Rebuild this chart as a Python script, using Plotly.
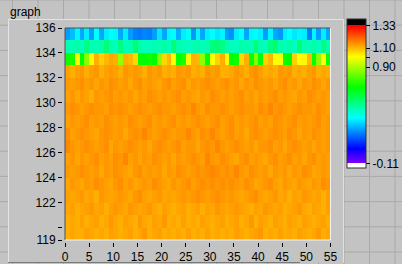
import plotly.graph_objects as go

# ---------------- data ----------------
x_start = 0          # first column edge
y_start = 119        # first row edge
x_ticks = [0, 5, 10, 15, 20, 25, 30, 35, 40, 45, 50, 55]
y_ticks = [119, 120, 122, 124, 126, 128, 130, 132, 134, 136]
y_ticktext = ["119", "", "122", "124", "126", "128", "130", "132", "134", "136"]
cb_ticks = [-0.11, 0.90, 1.00, 1.10, 1.33]
cb_ticktext = ["-0.11", "0.90", "", "1.10", "1.33"]

row_119 = [1.11,1.12,1.11,1.11,1.13,1.12,1.11,1.12,1.11,1.13,1.12,
           1.11,1.12,1.13,1.11,1.12,1.14,1.11,1.12,1.13,1.11,1.12,
           1.11,1.12,1.11,1.13,1.11,1.12,1.11,1.13,1.11,1.12,1.11,
           1.12,1.11,1.13,1.12,1.11,1.12,1.13,1.14,1.11,1.12,1.11,
           1.13,1.11,1.12,1.11,1.13,1.12,1.11,1.12,1.14,1.11,1.12]
row_120 = [1.11,1.12,1.11,1.13,1.11,1.12,1.13,1.11,1.12,1.14,1.12,
           1.11,1.13,1.12,1.11,1.14,1.12,1.11,1.13,1.12,1.14,1.11,
           1.12,1.11,1.13,1.11,1.12,1.11,1.13,1.12,1.11,1.12,1.13,
           1.11,1.12,1.13,1.11,1.12,1.14,1.11,1.13,1.12,1.11,1.13,
           1.12,1.11,1.13,1.12,1.11,1.13,1.12,1.11,1.12,1.13,1.11]
row_121 = [1.12,1.13,1.11,1.12,1.13,1.14,1.12,1.13,1.11,1.13,1.14,
           1.13,1.12,1.14,1.13,1.12,1.13,1.14,1.12,1.11,1.13,1.12,
           1.11,1.12,1.13,1.11,1.12,1.13,1.11,1.13,1.12,1.14,1.13,
           1.12,1.13,1.14,1.13,1.12,1.11,1.13,1.12,1.14,1.13,1.12,
           1.13,1.11,1.12,1.13,1.14,1.12,1.11,1.13,1.12,1.11,1.13]
row_122 = [1.13,1.12,1.13,1.14,1.12,1.13,1.11,1.14,1.13,1.12,1.13,
           1.14,1.13,1.12,1.14,1.15,1.13,1.12,1.13,1.14,1.12,1.13,
           1.12,1.13,1.14,1.13,1.14,1.15,1.14,1.13,1.14,1.15,1.14,
           1.13,1.14,1.13,1.12,1.13,1.14,1.15,1.13,1.12,1.13,1.14,
           1.12,1.13,1.11,1.13,1.12,1.14,1.13,1.12,1.13,1.11,1.13]
row_123 = [1.12,1.14,1.13,1.12,1.14,1.13,1.15,1.14,1.13,1.12,1.14,
           1.15,1.13,1.14,1.12,1.13,1.14,1.13,1.15,1.14,1.13,1.12,
           1.14,1.13,1.14,1.15,1.13,1.14,1.15,1.14,1.15,1.14,1.15,
           1.14,1.15,1.14,1.13,1.15,1.14,1.12,1.13,1.14,1.15,1.13,
           1.12,1.14,1.13,1.12,1.14,1.13,1.12,1.14,1.13,1.15,1.14]
row_124 = [1.14,1.13,1.14,1.15,1.14,1.13,1.14,1.12,1.14,1.13,1.15,
           1.14,1.13,1.12,1.14,1.15,1.13,1.14,1.13,1.14,1.12,1.14,
           1.13,1.15,1.14,1.13,1.14,1.15,1.14,1.15,1.16,1.15,1.14,
           1.15,1.14,1.16,1.14,1.13,1.15,1.14,1.13,1.14,1.12,1.14,
           1.13,1.14,1.12,1.14,1.13,1.15,1.14,1.12,1.13,1.14,1.13]
row_125 = [1.13,1.14,1.12,1.14,1.13,1.14,1.15,1.13,1.14,1.13,1.15,
           1.14,1.16,1.13,1.14,1.12,1.14,1.13,1.15,1.14,1.13,1.14,
           1.12,1.14,1.13,1.14,1.15,1.14,1.13,1.16,1.14,1.13,1.15,
           1.14,1.13,1.12,1.14,1.15,1.13,1.14,1.13,1.12,1.14,1.15,
           1.13,1.14,1.15,1.13,1.14,1.12,1.14,1.15,1.13,1.14,1.13]
row_126 = [1.16,1.14,1.13,1.14,1.15,1.14,1.13,1.14,1.15,1.12,1.14,
           1.13,1.14,1.15,1.14,1.13,1.14,1.12,1.14,1.15,1.14,1.13,
           1.14,1.15,1.13,1.14,1.14,1.12,1.14,1.15,1.14,1.16,1.14,
           1.13,1.14,1.15,1.14,1.13,1.14,1.12,1.14,1.14,1.15,1.13,
           1.14,1.12,1.14,1.15,1.14,1.13,1.14,1.12,1.14,1.13,1.14]
row_127 = [1.15,1.13,1.14,1.15,1.14,1.13,1.12,1.14,1.15,1.14,1.13,
           1.14,1.12,1.14,1.15,1.14,1.16,1.14,1.13,1.14,1.15,1.14,
           1.13,1.14,1.14,1.16,1.14,1.13,1.15,1.14,1.16,1.14,1.13,
           1.14,1.15,1.13,1.14,1.12,1.14,1.15,1.14,1.13,1.14,1.15,
           1.14,1.13,1.15,1.14,1.12,1.14,1.13,1.15,1.14,1.13,1.14]
row_128 = [1.13,1.14,1.13,1.14,1.15,1.13,1.14,1.13,1.15,1.14,1.13,
           1.14,1.13,1.15,1.14,1.13,1.14,1.15,1.13,1.14,1.13,1.14,
           1.15,1.13,1.14,1.13,1.14,1.15,1.14,1.13,1.14,1.15,1.13,
           1.14,1.15,1.13,1.14,1.13,1.14,1.15,1.13,1.14,1.13,1.15,
           1.14,1.13,1.14,1.15,1.13,1.14,1.13,1.14,1.15,1.13,1.14]
row_129 = [1.14,1.15,1.14,1.13,1.14,1.15,1.14,1.14,1.13,1.15,1.14,
           1.15,1.14,1.13,1.14,1.15,1.14,1.13,1.14,1.15,1.14,1.14,
           1.13,1.14,1.15,1.14,1.16,1.14,1.13,1.15,1.14,1.14,1.15,
           1.14,1.13,1.14,1.15,1.14,1.14,1.13,1.15,1.14,1.16,1.14,
           1.15,1.14,1.13,1.14,1.15,1.14,1.14,1.13,1.15,1.14,1.13]
row_130 = [1.13,1.14,1.12,1.14,1.13,1.11,1.14,1.13,1.14,1.15,1.13,
           1.14,1.13,1.14,1.12,1.14,1.13,1.15,1.14,1.13,1.14,1.13,
           1.14,1.15,1.13,1.14,1.13,1.12,1.14,1.13,1.15,1.14,1.13,
           1.14,1.13,1.14,1.15,1.13,1.14,1.12,1.14,1.13,1.14,1.15,
           1.13,1.14,1.13,1.12,1.14,1.13,1.15,1.14,1.13,1.14,1.13]
row_131 = [1.14,1.13,1.14,1.15,1.13,1.14,1.12,1.14,1.13,1.15,1.14,
           1.13,1.14,1.12,1.14,1.15,1.13,1.14,1.13,1.12,1.14,1.15,
           1.13,1.14,1.15,1.12,1.14,1.13,1.14,1.15,1.14,1.13,1.14,
           1.15,1.13,1.14,1.12,1.14,1.13,1.15,1.14,1.13,1.14,1.12,
           1.14,1.15,1.13,1.14,1.12,1.14,1.13,1.15,1.14,1.12,1.14]
row_132 = [1.13,1.11,1.13,1.14,1.11,1.13,1.14,1.11,1.13,1.14,1.13,
           1.11,1.14,1.13,1.14,1.13,1.11,1.14,1.13,1.14,1.11,1.12,
           1.11,1.14,1.13,1.14,1.11,1.12,1.11,1.14,1.13,1.14,1.11,
           1.11,1.12,1.14,1.13,1.11,1.14,1.15,1.13,1.11,1.12,1.11,
           1.14,1.13,1.14,1.11,1.12,1.11,1.13,1.14,1.11,1.12,1.11]
row_133 = [0.70,0.72,1.00,0.69,0.86,1.02,1.11,1.07,1.10,1.12,1.11,
           0.88,1.11,1.10,1.06,0.70,0.68,0.71,0.69,0.86,1.06,1.10,
           1.01,0.70,0.72,1.02,1.11,1.10,0.87,0.70,1.00,1.07,1.11,
           1.02,0.69,0.71,1.06,1.11,0.70,0.86,0.68,1.07,1.10,1.01,
           1.00,0.70,0.69,1.07,1.01,1.02,1.10,0.70,0.87,1.01,0.71]
row_134 = [0.47,0.46,0.48,0.45,0.53,0.47,0.46,0.48,0.54,0.47,0.45,
           0.53,0.46,0.47,0.55,0.48,0.46,0.45,0.47,0.46,0.48,0.45,
           0.54,0.47,0.46,0.45,0.47,0.48,0.46,0.47,0.53,0.55,0.52,
           0.47,0.46,0.45,0.48,0.47,0.46,0.54,0.47,0.45,0.53,0.55,
           0.47,0.46,0.48,0.45,0.54,0.47,0.46,0.48,0.45,0.53,0.47]
row_135 = [0.25,0.29,0.36,0.26,0.35,0.25,0.37,0.26,0.35,0.38,0.36,
           0.26,0.35,0.25,0.21,0.20,0.22,0.21,0.25,0.34,0.26,0.36,
           0.37,0.27,0.35,0.38,0.24,0.36,0.26,0.35,0.37,0.34,0.36,
           0.25,0.23,0.35,0.37,0.26,0.36,0.38,0.35,0.25,0.36,0.26,
           0.24,0.35,0.37,0.34,0.36,0.35,0.21,0.36,0.25,0.35,0.26]

z_rows = [row_119, row_120, row_121, row_122, row_123, row_124, row_125,
          row_126, row_127, row_128, row_129, row_130, row_131, row_132,
          row_133, row_134, row_135]

# ---------------- layout helpers ----------------
W, H = 402, 264
ML, MR, MT, MB = 61, 71, 28, 22
PW, PH = W - ML - MR, H - MT - MB


def px(x):
    return (x - ML) / PW


def py(y):
    return (H - MB - y) / PH


# colour ramp (LabVIEW style rainbow, black above range, white below)
zmin, zmax = -0.152, 1.403
lo, hi = -0.11, 1.33


def pos(v):
    return (v - zmin) / (zmax - zmin)


anchors = [(270, "rgb(128,0,255)"), (240, "rgb(0,0,255)"), (180, "rgb(0,255,255)"),
           (120, "rgb(0,255,0)"), (60, "rgb(255,255,0)"), (0, "rgb(255,0,0)")]
cscale = [[0.0, "rgb(255,255,255)"], [pos(lo + 0.008), "rgb(255,255,255)"]]
for h, c in anchors:
    v = hi - h / 270 * (hi - lo)
    v = max(v, lo + 0.008)
    cscale.append([pos(v), c])
cscale.append([pos(hi + 0.01), "rgb(255,0,0)"])
cscale.append([pos(hi + 0.01), "rgb(0,0,0)"])
cscale.append([1.0, "rgb(0,0,0)"])

font = dict(family="Liberation Sans, Arial, sans-serif", size=12, color="black")

fig = go.Figure(go.Heatmap(
    z=z_rows, x0=x_start + 0.5, dx=1, y0=y_start + 0.5, dy=1,
    zmin=zmin, zmax=zmax, colorscale=cscale,
    hoverinfo="skip",
    colorbar=dict(
        x=px(347), xanchor="left", y=py(19), yanchor="top",
        lenmode="pixels", len=149, thickness=19, thicknessmode="pixels",
        xpad=0, ypad=0, outlinewidth=1, outlinecolor="#303030",
        tickvals=cb_ticks, ticktext=cb_ticktext,
        ticks="outside", ticklen=4, tickwidth=1, tickcolor="black",
        tickfont=font, borderwidth=0,
    ),
))

shapes = []
grid_col = "#a9a9a9"
# background grid
gx = 344 - 25.5 * 14
while gx <= W:
    shapes.append(dict(type="line", xref="paper", yref="paper", x0=px(gx), x1=px(gx),
                       y0=py(0), y1=py(H), line=dict(color=grid_col, width=1), layer="below"))
    gx += 25.5
gy = 0
while gy <= H:
    shapes.append(dict(type="line", xref="paper", yref="paper", x0=px(0), x1=px(W),
                       y0=py(gy), y1=py(gy), line=dict(color=grid_col, width=1), layer="below"))
    gy += 25.2
# graph panel
shapes.append(dict(type="rect", xref="paper", yref="paper", x0=px(8), x1=px(343.5),
                   y0=py(262.5), y1=py(19), fillcolor="#c3c3c3",
                   line=dict(width=0), layer="below"))
for (x0, y0, x1, y1, c) in [(8, 19.5, 343.5, 19.5, "#e4e4e4"), (8.5, 19, 8.5, 262.5, "#e4e4e4"),
                            (343.5, 19, 343.5, 262.5, "#e0e0e0"), (8, 262.5, 300, 262.5, "#7a7a7a")]:
    shapes.append(dict(type="line", xref="paper", yref="paper", x0=px(x0), x1=px(x1),
                       y0=py(y0), y1=py(y1), line=dict(color=c, width=1), layer="below"))
# sunken border around the plot area
for (x0, y0, x1, y1, c) in [(0, 1, 1, 1, "#505050"), (0, 0, 0, 1, "#505050"),
                            (1, 0, 1, 1, "#f4f4f4"), (0, 0, 1, 0, "#f4f4f4")]:
    shapes.append(dict(type="line", xref="x domain", yref="y domain", x0=x0, x1=x1,
                       y0=y0, y1=y1, line=dict(color=c, width=1), layer="above"))

fig.update_layout(
    width=W, height=H,
    margin=dict(l=ML, r=MR, t=MT, b=MB, pad=0, autoexpand=False),
    paper_bgcolor="#c3c3c3", plot_bgcolor="#c3c3c3",
    font=font, showlegend=False, shapes=shapes,
    xaxis=dict(domain=[px(65), px(330.5)], range=[0, 55], tickvals=x_ticks,
               ticks="outside", ticklen=4, tickwidth=1, tickcolor="black",
               showgrid=False, zeroline=False, showline=False,
               anchor="free", position=0, tickfont=font, fixedrange=True),
    yaxis=dict(domain=[(242 - 240) / PH, 1], range=[119, 136], tickvals=y_ticks,
               ticktext=y_ticktext, ticks="outside", ticklen=4, tickwidth=1,
               tickcolor="black", showgrid=False, zeroline=False, showline=False,
               anchor="free", position=px(62), tickfont=font, fixedrange=True),
    annotations=[dict(text="graph", xref="paper", yref="paper", x=px(8), y=py(3),
                      xanchor="left", yanchor="top", showarrow=False, font=font)],
)

fig.write_html("out.html", config={"displayModeBar": False})
